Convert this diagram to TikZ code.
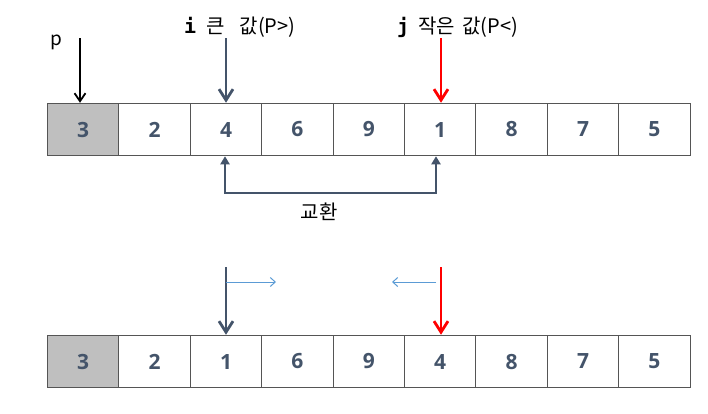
\documentclass[tikz,border=0pt]{standalone}
\usepackage{fontspec}
\setmainfont{Noto Sans CJK KR}
\newfontfamily\numfont{Open Sans}
\newfontfamily\codefont{DejaVu Sans Mono}
\usepackage{tikz}
\usetikzlibrary{arrows.meta,positioning,calc}
\usepackage{xcolor}
\definecolor{qsslate}{RGB}{68,84,106}
\definecolor{qsred}{RGB}{255,0,0}
\definecolor{qsblue}{RGB}{91,155,213}
\definecolor{qsgray}{RGB}{191,191,191}
\definecolor{qsline}{RGB}{85,85,85}
\tikzstyle{cell} = [draw=qsline,line width=1.1pt,minimum width=71.4pt,minimum height=52.4pt,inner sep=0pt,font=\numfont\bfseries\fontsize{21}{24}\selectfont,text=qsslate]
\tikzstyle{pivotcell} = [cell,fill=qsgray]
\tikzstyle{parrow} = [line width=1.8pt,-{Straight Barb[length=8pt,width=11pt]},color=black]
\tikzstyle{iarrow} = [line width=2.8pt,-{Straight Barb[length=11pt,width=14pt]},color=qsslate]
\tikzstyle{jarrow} = [line width=2.8pt,-{Straight Barb[length=11pt,width=14pt]},color=qsred]
\tikzstyle{swaparrow} = [line width=2.8pt,{Triangle[length=8pt,width=9pt]}-{Triangle[length=8pt,width=9pt]},color=qsslate]
\tikzstyle{movearrow} = [line width=1pt,-{Straight Barb[length=5pt,width=9pt]},color=qsblue]
\tikzstyle{lbl} = [inner sep=0pt,font=\fontsize{20}{23}\selectfont]

\begin{document}
\begin{tikzpicture}[x=1pt,y=-1pt]
\useasboundingbox (0,0) rectangle (708,413);

% Two rows
\foreach \v [count=\k] in {3,2,4,6,9,1,8,7,5} {
  \ifnum\k=1 \def\cs{pivotcell}\else \def\cs{cell}\fi
  \node[\cs] (a\k) at ({47.5+71.4*(\k-0.5)}, 129.5) {\v};
}
\foreach \v [count=\k] in {3,2,1,6,9,4,8,7,5} {
  \ifnum\k=1 \def\cs{pivotcell}\else \def\cs{cell}\fi
  \node[\cs] (b\k) at ({47.5+71.4*(\k-0.5)}, 361.5) {\v};
}

% Labels
\node[lbl,anchor=base west,font=\fontsize{19}{22}\selectfont] (plbl) at (50,45) {p};
\node[lbl,anchor=base west] (ilbl) at (184,33) {{\codefont\bfseries i}\hspace{10pt}큰\hspace{15pt}값(P>)};
\node[lbl,anchor=base west] (jlbl) at (397,33) {{\codefont\bfseries j}\hspace{9pt}작은\hspace{7pt}값(P\hspace{1pt}<)};

% Pointers, first pass
\coordinate (ptop) at (80,38);
\coordinate (itop) at (226,38);
\coordinate (jtop) at (441,38);
\draw[parrow] (ptop) -- (ptop |- a1.north);
\draw[iarrow] (itop) -- (itop |- a3.north);
\draw[jarrow] (jtop) -- (jtop |- a6.north);

% Swap
\coordinate (swapl) at (225,193);
\coordinate (swapr) at (436,193);
\draw[swaparrow] (swapl |- a3.south) -- (swapl) -- (swapr) -- (swapr |- a6.south);
\node[lbl] (swaplbl) at (319,212) {교환};

% Pointers, second pass
\coordinate (ibot) at (226,267);
\coordinate (jbot) at (441,267);
\draw[iarrow] (ibot) -- (ibot |- b3.north);
\draw[jarrow] (jbot) -- (jbot |- b6.north);
\coordinate (imove) at (226,282);
\coordinate (inext) at (276,282);
\coordinate (jmove) at (436,282);
\coordinate (jnext) at (392,282);
\draw[movearrow] (imove) -- (inext);
\draw[movearrow] (jmove) -- (jnext);
\end{tikzpicture}
\end{document}
